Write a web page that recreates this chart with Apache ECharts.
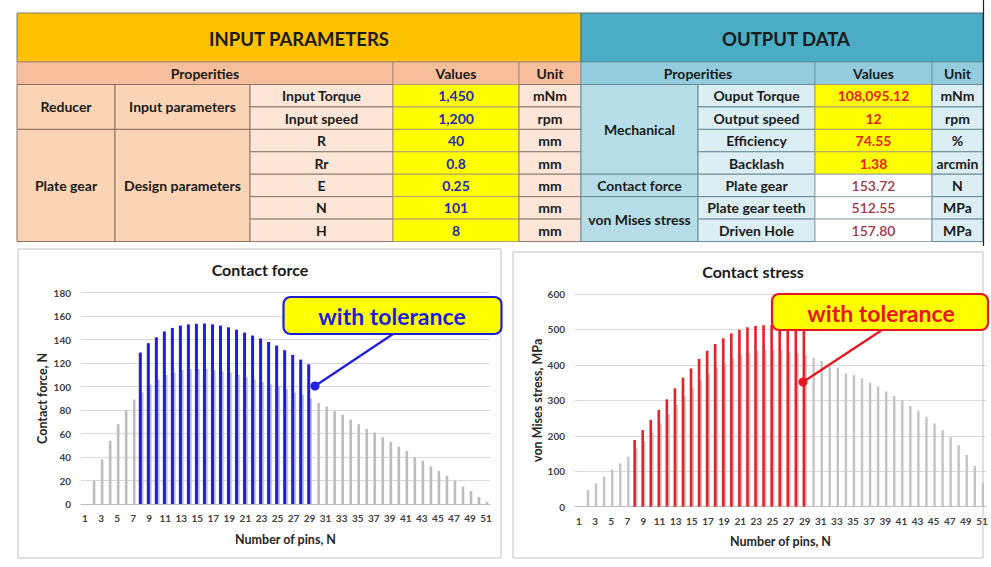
<!DOCTYPE html>
<html>
<head>
<meta charset="utf-8">
<script src="https://cdn.jsdelivr.net/npm/echarts@6/dist/echarts.min.js"></script>
<style>html,body{margin:0;padding:0;background:#fff;}#c{width:991px;height:567px;}</style>
</head>
<body>
<div id="c"></div>
<script>
// ---------- DATA ----------
const pins = ['1','2','3','4','5','6','7','8','9','10','11','12','13','14','15','16','17','18','19','20',
  '21','22','23','24','25','26','27','28','29','30','31','32','33','34','35','36','37','38','39','40',
  '41','42','43','44','45','46','47','48','49','50','51'];

// Contact force, N (without tolerance, grey) pins 1..51
const forceNoTol = [0,20,38,54,68,80,89,95,102,106,
  110,112,114,115,115,115,114,113,112,110,
  108,106,104,102,100,98,95,93,90,86,
  83,79,76,72,68,64,61,57,53,49,
  45,40,37,32,28,24,20,15,11,6,2];
// Contact force, N (with tolerance, blue) pins 1..51
const forceTol = [null,null,null,null,null,null,null,
  129,137,142,147,150,152,153,153.5,153.72,153,152,150.5,148.5,146,143.5,141,138,135,131,127,123,119,
  null,null,null,null,null,null,null,null,null,null,null,null,null,null,null,null,null,null,null,null,null,null];

// von Mises stress, MPa (without tolerance, grey)
const stressNoTol = [0,47,66,85,105,122,141,
  165,185,210,235,262,288,312,335,356,375,392,405,418,427,434,440,442,442,440,437,433,427,
  419,411,395,392,376,371,362,350,339,325,312,301,284,271,254,235,216,196,174,146,115,68];
// von Mises stress, MPa (with tolerance, red)
const stressTol = [null,null,null,null,null,null,null,
  188,216,245,273,303,334,364,390,417,440,459,475,489,499,506,510,512,512.55,511,509,506,502,
  null,null,null,null,null,null,null,null,null,null,null,null,null,null,null,null,null,null,null,null,null,null];

const forceTicks = {min:0, max:180, interval:20};
const stressTicks = {min:0, max:600, interval:100};

// Table texts
const inputTitle = 'INPUT PARAMETERS';
const outputTitle = 'OUTPUT DATA';
const headerCols = ['Properities','Values','Unit'];
const inputProps = ['Input Torque','Input speed','R','Rr','E','N','H'];
const inputValues = ['1,450','1,200','40','0.8','0.25','101','8'];
const inputUnits = ['mNm','rpm','mm','mm','mm','mm','mm'];
const inputGroups = [['Reducer',0,2],['Plate gear',2,5]];
const inputSubGroups = [['Input parameters',0,2],['Design parameters',2,5]];
const outputProps = ['Ouput Torque','Output speed','Efficiency','Backlash','Plate gear','Plate gear teeth','Driven Hole'];
const outputValues = ['108,095.12','12','74.55','1.38','153.72','512.55','157.80'];
const outputUnits = ['mNm','rpm','%','arcmin','N','MPa','MPa'];
const outputGroups = [['Mechanical',0,4],['Contact force',4,1],['von Mises stress',5,2]];
const calloutText = 'with tolerance';

// ---------- LAYOUT / STYLE ----------
const FONT = 'Lato, "Open Sans", sans-serif';
const G = [];
function rect(x,y,w,h,fill,stroke,z){
  G.push({type:'rect',z:z||1,shape:{x:x,y:y,width:w,height:h},style:{fill:fill,stroke:stroke||null,lineWidth:1}});
}
function txt(x,y,t,color,size,z,weight){
  G.push({type:'text',z:z||2,x:x,y:y,style:{text:t,fill:color,font:(weight||'bold')+' '+size+'px '+FONT,align:'center',verticalAlign:'middle'}});
}
const TS = 14;
const hdrTop=13, hdrBot=62, r2Bot=84.5, rowH=22.43;
const rowY = i => r2Bot + i*rowH;
const inCols=[17,115,250,393,519,581];
const outCols=[581,698,815,932,983];

// Input side
rect(inCols[0],hdrTop,inCols[5]-inCols[0],hdrBot-hdrTop,'#FFC000','#7f7f7f');
txt((inCols[0]+inCols[5])/2,(hdrTop+hdrBot)/2+1,inputTitle,'#1a1a1a',18.5);
rect(inCols[0],hdrBot,inCols[3]-inCols[0],r2Bot-hdrBot,'#F6BE9A','#b08a70');
rect(inCols[3],hdrBot,inCols[4]-inCols[3],r2Bot-hdrBot,'#F6BE9A','#b08a70');
rect(inCols[4],hdrBot,inCols[5]-inCols[4],r2Bot-hdrBot,'#F6BE9A','#b08a70');
txt((inCols[0]+inCols[3])/2,(hdrBot+r2Bot)/2,headerCols[0],'#1a1a1a',TS);
txt((inCols[3]+inCols[4])/2,(hdrBot+r2Bot)/2,headerCols[1],'#1a1a1a',TS);
txt((inCols[4]+inCols[5])/2,(hdrBot+r2Bot)/2,headerCols[2],'#1a1a1a',TS);
inputGroups.forEach(g=>{
  rect(inCols[0],rowY(g[1]),inCols[1]-inCols[0],g[2]*rowH,'#FBD4B6','#8c7060');
  txt((inCols[0]+inCols[1])/2,rowY(g[1])+g[2]*rowH/2,g[0],'#1a1a1a',TS);
});
inputSubGroups.forEach(g=>{
  rect(inCols[1],rowY(g[1]),inCols[2]-inCols[1],g[2]*rowH,'#FBD4B6','#8c7060');
  txt((inCols[1]+inCols[2])/2,rowY(g[1])+g[2]*rowH/2,g[0],'#1a1a1a',TS);
});
inputProps.forEach((p,i)=>{
  rect(inCols[2],rowY(i),inCols[3]-inCols[2],rowH,'#FDE6D8','#8c7a6e');
  txt((inCols[2]+inCols[3])/2,rowY(i)+rowH/2,p,'#1a1a1a',TS);
  rect(inCols[3],rowY(i),inCols[4]-inCols[3],rowH,'#FFFF00','#b0a070');
  txt((inCols[3]+inCols[4])/2,rowY(i)+rowH/2,inputValues[i],'#2828B4',TS);
  rect(inCols[4],rowY(i),inCols[5]-inCols[4],rowH,'#FDE6D8','#8c7a6e');
  txt((inCols[4]+inCols[5])/2,rowY(i)+rowH/2,inputUnits[i],'#1a1a1a',TS);
});
// Output side
rect(outCols[0],hdrTop,outCols[4]-outCols[0],hdrBot-hdrTop,'#4BACC6','#4f6f80');
txt((outCols[0]+outCols[4])/2+4,(hdrTop+hdrBot)/2+1,outputTitle,'#1a1a1a',18.5);
rect(outCols[0],hdrBot,outCols[2]-outCols[0],r2Bot-hdrBot,'#93CDDD','#6a9aaa');
rect(outCols[2],hdrBot,outCols[3]-outCols[2],r2Bot-hdrBot,'#93CDDD','#6a9aaa');
rect(outCols[3],hdrBot,outCols[4]-outCols[3],r2Bot-hdrBot,'#93CDDD','#6a9aaa');
txt((outCols[0]+outCols[2])/2,(hdrBot+r2Bot)/2,headerCols[0],'#1a1a1a',TS);
txt((outCols[2]+outCols[3])/2,(hdrBot+r2Bot)/2,headerCols[1],'#1a1a1a',TS);
txt((outCols[3]+outCols[4])/2,(hdrBot+r2Bot)/2,headerCols[2],'#1a1a1a',TS);
outputGroups.forEach(g=>{
  rect(outCols[0],rowY(g[1]),outCols[1]-outCols[0],g[2]*rowH,'#B7DEE8','#6a8a98');
  txt((outCols[0]+outCols[1])/2,rowY(g[1])+g[2]*rowH/2,g[0],'#1a1a1a',TS);
});
outputProps.forEach((p,i)=>{
  rect(outCols[1],rowY(i),outCols[2]-outCols[1],rowH,'#DAEEF3','#6a8a98');
  txt((outCols[1]+outCols[2])/2,rowY(i)+rowH/2,p,'#1a1a1a',TS);
  const yel = i<4;
  rect(outCols[2],rowY(i),outCols[3]-outCols[2],rowH,yel?'#FFFF00':'#FFFFFF',yel?'#b0a070':'#9aaab0');
  txt((outCols[2]+outCols[3])/2,rowY(i)+rowH/2,outputValues[i],yel?'#EE1C1C':'#A0364A',TS,3,yel?'bold':'600');
  rect(outCols[3],rowY(i),outCols[4]-outCols[3],rowH,'#DAEEF3','#6a8a98');
  txt((outCols[3]+outCols[4])/2,rowY(i)+rowH/2,outputUnits[i],'#1a1a1a',TS);
});
// clip right edge of the table
rect(983.5,0,10,246,'#ffffff',null,5);
G.push({type:'line',z:6,shape:{x1:983.5,y1:0,x2:983.5,y2:246},style:{stroke:'#222',lineWidth:1.2}});

// Chart frames and titles
rect(18,249,483,309,'rgba(0,0,0,0)','#BFBFBF',0);
rect(513,252,470,306,'rgba(0,0,0,0)','#BFBFBF',0);
txt(260,269,'Contact force','#1a1a1a',16);
txt(753,271,'Contact stress','#1a1a1a',16);

// Callouts
function callout(x,y,w,h,color,lx1,ly1,lx2,ly2,tx,ty){
  G.push({type:'line',z:50,shape:{x1:lx1,y1:ly1,x2:lx2,y2:ly2},style:{stroke:color,lineWidth:2.2}});
  G.push({type:'circle',z:51,shape:{cx:lx2,cy:ly2,r:4.5},style:{fill:color}});
  G.push({type:'rect',z:52,shape:{x:x,y:y,width:w,height:h,r:7},style:{fill:'#FFFF00',stroke:color,lineWidth:2.2}});
  txt(tx,ty,calloutText,color,23,53);
}
callout(283.5,297,218,37,'#1E1EDC',393,334,315,386,392,316);
callout(772,294,216,36,'#E8141E',882,330,803,382,881,313);

// ---------- CHART ----------
const axisLabelStyle = {fontSize:10,color:'#404040',fontFamily:FONT,fontWeight:'bold'};
const nameStyle = {fontSize:12.5,color:'#262626',fontFamily:FONT,fontWeight:'bold'};
function xAx(gi){
  return {type:'category',gridIndex:gi,data:pins,axisTick:{show:false},
    axisLine:{lineStyle:{color:'#BFBFBF'}},
    axisLabel:Object.assign({interval:1,margin:9},axisLabelStyle),
    name:'Number of pins, N',nameLocation:'middle',nameGap:28.5,nameTextStyle:nameStyle};
}
function yAx(gi,t,name,gap){
  return {type:'value',gridIndex:gi,min:t.min,max:t.max,interval:t.interval,
    axisLine:{show:false},axisTick:{show:false},
    splitLine:{lineStyle:{color:'#D9D9D9',width:1}},
    axisLabel:Object.assign({margin:10},axisLabelStyle),
    name:name,nameLocation:'middle',nameGap:gap,nameTextStyle:nameStyle};
}
const chart = echarts.init(document.getElementById('c'),null,{renderer:'svg',width:991,height:567});
chart.setOption({
  animation:false,
  backgroundColor:'#ffffff',
  grid:[
    {left:81,top:292.7,width:409,height:211.3,containLabel:false},
    {left:575,top:294,width:411,height:212.7,containLabel:false}
  ],
  xAxis:[xAx(0),xAx(1)],
  yAxis:[yAx(0,forceTicks,'Contact force, N',32),yAx(1,stressTicks,'von Mises stress, MPa',31)],
  series:[
    {type:'bar',name:'with tolerance',xAxisIndex:0,yAxisIndex:0,data:forceTol,barWidth:3,barGap:'-30%',z:4,itemStyle:{color:'#1E1EDC'}},
    {type:'bar',name:'without tolerance',xAxisIndex:0,yAxisIndex:0,data:forceNoTol,barWidth:2.6,barGap:'-30%',z:3,itemStyle:{color:'#BDBDBD'}},
    {type:'bar',name:'with tolerance',xAxisIndex:1,yAxisIndex:1,data:stressTol,barWidth:2.6,barGap:'-30%',z:4,itemStyle:{color:'#E8202A'}},
    {type:'bar',name:'without tolerance',xAxisIndex:1,yAxisIndex:1,data:stressNoTol,barWidth:2.4,barGap:'-30%',z:3,itemStyle:{color:'#C4C4C4'}}
  ],
  graphic:{elements:G}
});
</script>
</body>
</html>
